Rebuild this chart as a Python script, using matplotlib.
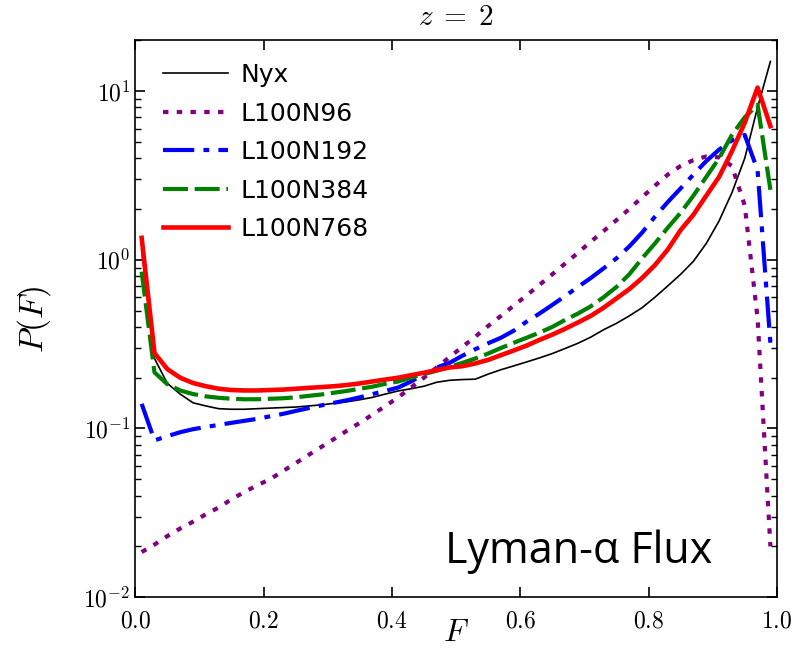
import matplotlib
matplotlib.use("Agg")
import matplotlib.pyplot as plt
from matplotlib.ticker import FuncFormatter, LogLocator, MultipleLocator
import numpy as np

plt.rcParams['mathtext.fontset'] = 'cm'

# flux bin centres
F = np.arange(0.01, 1.0, 0.02)

nyx = [1.15, 0.26, 0.185, 0.16, 0.142, 0.136, 0.131, 0.13, 0.13, 0.131,
       0.132, 0.133, 0.134, 0.136, 0.138, 0.141, 0.144, 0.148, 0.153, 0.16,
       0.167, 0.172, 0.178, 0.188, 0.193, 0.195, 0.196, 0.21, 0.223, 0.235,
       0.248, 0.262, 0.278, 0.298, 0.32, 0.348, 0.385, 0.42, 0.465, 0.52,
       0.6, 0.7, 0.82, 0.98, 1.25, 1.7, 2.5, 4.0, 8.0, 15.0]

l100n96 = [0.0185, 0.0205, 0.023, 0.0255, 0.028, 0.031, 0.034, 0.038, 0.042, 0.046,
           0.05, 0.0558, 0.0623, 0.0696, 0.0777, 0.0867, 0.097, 0.108, 0.121, 0.136,
           0.153, 0.175, 0.2, 0.23, 0.265, 0.305, 0.35, 0.405, 0.465, 0.535,
           0.615, 0.71, 0.82, 0.95, 1.1, 1.28, 1.48, 1.72, 2.0, 2.35,
           2.75, 3.2, 3.6, 3.9, 4.1, 4.05, 3.6, 2.1, 0.45, 0.02]

l100n192 = [0.14, 0.085, 0.09, 0.095, 0.099, 0.102, 0.105, 0.108, 0.111, 0.114,
            0.118, 0.122, 0.127, 0.132, 0.137, 0.142, 0.147, 0.153, 0.16, 0.167,
            0.175, 0.19, 0.21, 0.23, 0.245, 0.27, 0.295, 0.32, 0.345, 0.38,
            0.43, 0.48, 0.54, 0.61, 0.69, 0.78, 0.89, 1.02, 1.2, 1.45,
            1.8, 2.2, 2.65, 3.2, 3.85, 4.5, 5.1, 5.5, 3.4, 0.32]

l100n384 = [0.85, 0.215, 0.183, 0.168, 0.16, 0.155, 0.152, 0.15, 0.149, 0.149,
            0.15, 0.151, 0.153, 0.156, 0.159, 0.163, 0.167, 0.172, 0.177, 0.184,
            0.19, 0.2, 0.21, 0.22, 0.232, 0.245, 0.26, 0.278, 0.3, 0.322,
            0.345, 0.37, 0.4, 0.44, 0.48, 0.53, 0.6, 0.69, 0.82, 1.02,
            1.25, 1.55, 1.9, 2.4, 3.1, 4.0, 5.5, 7.0, 8.3, 2.6]

l100n768 = [1.35, 0.28, 0.225, 0.2, 0.186, 0.178, 0.172, 0.169, 0.168, 0.168,
            0.169, 0.17, 0.172, 0.174, 0.176, 0.178, 0.181, 0.185, 0.19, 0.195,
            0.2, 0.207, 0.214, 0.222, 0.23, 0.234, 0.243, 0.255, 0.272, 0.29,
            0.31, 0.335, 0.36, 0.39, 0.425, 0.465, 0.52, 0.59, 0.67, 0.78,
            0.93, 1.15, 1.5, 1.85, 2.4, 3.1, 4.4, 6.5, 10.5, 6.2]

fig = plt.figure(figsize=(8.05, 6.62), dpi=100)
ax = fig.add_axes([0.168, 0.098, 0.797, 0.841])

ax.plot(F, nyx, color='black', lw=1.2, label='Nyx')
ax.plot(F, l100n96, color='purple', lw=3, ls=(0, (1.3, 2.0)), label='L100N96')
ax.plot(F, l100n192, color='blue', lw=3, ls=(0, (7.5, 2.2, 1.4, 2.2)), label='L100N192')
ax.plot(F, l100n384, color='green', lw=3, ls=(0, (6.0, 1.6)), label='L100N384')
ax.plot(F, l100n768, color='red', lw=3.3, label='L100N768')

ax.set_yscale('log')
ax.set_xlim(0, 1)
ax.set_ylim(1e-2, 20)

ax.xaxis.set_major_locator(MultipleLocator(0.2))
ax.xaxis.set_major_formatter(FuncFormatter(lambda v, p: r'$%.1f$' % v))
ax.yaxis.set_major_locator(LogLocator(base=10, numticks=10))
ax.yaxis.set_major_formatter(FuncFormatter(lambda v, p: r'$10^{%d}$' % round(np.log10(v))))
ax.yaxis.set_minor_locator(LogLocator(base=10, subs=np.arange(2, 10), numticks=20))

ax.tick_params(which='both', direction='in', top=True, right=True, labelsize=17)
ax.tick_params(axis='x', pad=8)
ax.tick_params(which='major', length=7, width=1.2)
ax.tick_params(which='minor', length=4, width=1)
for s in ax.spines.values():
    s.set_linewidth(1.2)

ax.set_xlabel(r'$F$', fontsize=23, labelpad=-11)
ax.set_ylabel(r'$P(F)$', fontsize=24, labelpad=22)
ax.set_title(r'$z\;=\;2$', fontsize=21, pad=11)

ax.legend(loc='upper left', bbox_to_anchor=(0.028, 0.977), borderaxespad=0,
          frameon=False, fontsize=18, handlelength=2.6, handletextpad=0.5,
          labelspacing=0.58)

ax.text(0.9, 0.061, r'Lyman-α Flux', transform=ax.transAxes, ha='right',
        va='baseline', fontsize=31, family='Open Sans')

fig.savefig('out.png', dpi=100)
